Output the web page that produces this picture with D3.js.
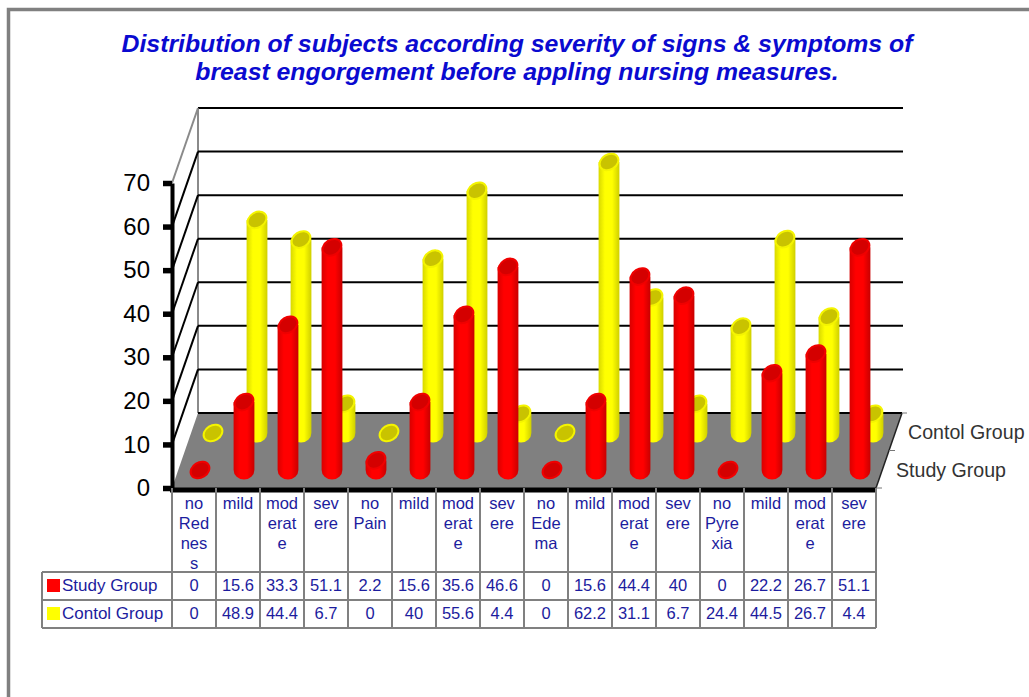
<!DOCTYPE html>
<html><head><meta charset="utf-8">
<script src="https://cdn.jsdelivr.net/npm/d3@7/dist/d3.min.js"></script>
<style>html,body{margin:0;padding:0;background:#fff}svg{display:block}text{font-family:"Liberation Sans",Arial,sans-serif}</style>
</head><body><div id="c"></div>
<script>
const titleLines = ["Distribution of subjects according severity of signs & symptoms of","breast engorgement before appling nursing measures."];
const categoryLines = [["no","Red","nes","s"],["mild"],["mod","erat","e"],["sev","ere"],["no","Pain"],["mild"],["mod","erat","e"],["sev","ere"],["no","Ede","ma"],["mild"],["mod","erat","e"],["sev","ere"],["no","Pyre","xia"],["mild"],["mod","erat","e"],["sev","ere"]];
const studyValues = [0,15.6,33.3,51.1,2.2,15.6,35.6,46.6,0,15.6,44.4,40,0,22.2,26.7,51.1];
const controlValues = [0,48.9,44.4,6.7,0,40,55.6,4.4,0,62.2,31.1,6.7,24.4,44.5,26.7,4.4];
const yTicks = [0,10,20,30,40,50,60,70];
const seriesNames = ["Study Group","Contol Group"];

const W=1029,H=697;
const svg=d3.select("#c").append("svg").attr("width",W).attr("height",H);
const defs=svg.append("defs");
function grad(id,stops){const g=defs.append("linearGradient").attr("id",id);
  stops.forEach(s=>g.append("stop").attr("offset",s[0]).attr("stop-color",s[1]));}
grad("gr",[[0,"#d80000"],[.3,"#ff0000"],[.65,"#ff0000"],[1,"#c80000"]]);
grad("gy",[[0,"#d8d800"],[.3,"#ffff00"],[.65,"#ffff00"],[1,"#cfcf00"]]);

// frame: left and top edges only
svg.append("path").attr("d",`M8.5,${H}V9.5H${W}`).attr("fill","none").attr("stroke","#808080").attr("stroke-width",3.5);

// title
svg.append("g").selectAll("text").data(titleLines).join("text")
  .attr("x",517).attr("y",(d,i)=>52+i*28).attr("text-anchor","middle")
  .attr("font-size",24.8).attr("font-weight","bold").attr("font-style","italic").attr("fill","#0a0ad0").text(d=>d);

// geometry
const x0=172,x1=876,floorFront=488,floorBack=413,dx=26;
const backRight=902;
const y=d3.scaleLinear().domain([0,70]).range([0,-305]);
const xb=d3.scaleBand().domain(d3.range(16)).range([x0,x1]);

// back wall and side wall
svg.append("line").attr("x1",x0+dx).attr("x2",x0+dx).attr("y1",floorBack+y(70)).attr("y2",floorBack).attr("stroke","#8a8a8a").attr("stroke-width",2);
svg.append("g").selectAll("line").data(yTicks.slice(1)).join("line")
  .attr("x1",x0+dx).attr("x2",903).attr("y1",d=>floorBack+y(d)).attr("y2",d=>floorBack+y(d)).attr("stroke","#000").attr("stroke-width",2);
svg.append("g").selectAll("line").data(yTicks.slice(1)).join("line")
  .attr("x1",x0).attr("x2",x0+dx).attr("y1",d=>floorFront+y(d)).attr("y2",d=>floorBack+y(d))
  .attr("stroke",d=>d===70?"#8a8a8a":"#000").attr("stroke-width",2);

// floor
svg.append("path").attr("d",`M${x0},${floorFront}L${x0+dx},${floorBack}H${backRight}L${x1},${floorFront}Z`).attr("fill","#808080");
svg.append("line").attr("x1",x0+dx).attr("x2",backRight).attr("y1",floorBack).attr("y2",floorBack).attr("stroke","#000").attr("stroke-width",2);
svg.append("path").attr("d",`M${backRight},${floorBack}L${x1},${floorFront}`).attr("stroke","#222").attr("stroke-width",1.5).attr("fill","none");
svg.append("path").attr("d",`M${backRight},${floorBack}h5M889,${(floorBack+floorFront)/2}h6M${x1},${floorFront}h6`).attr("stroke","#777").attr("stroke-width",1).attr("fill","none");

// cylinders
function cylinders(vals,fill,top,edge,offX,baseY){
  const rx=10,ry=7.6,rot=-32,hw=10.4;
  const g=svg.append("g").selectAll("g").data(vals).join("g")
    .attr("transform",(d,i)=>`translate(${xb(i)+offX},${baseY})`);
  g.filter(d=>d>0).append("path")
    .attr("d",d=>`M${-hw},${y(d)}V0A${hw},${ry+2} 0 0 0 ${hw},0V${y(d)}Z`)
    .attr("fill",`url(#${fill})`);
  g.append("ellipse").attr("cx",0).attr("cy",d=>y(d)).attr("rx",rx).attr("ry",ry)
    .attr("transform",d=>`rotate(${rot} 0 ${y(d)})`)
    .attr("fill",top).attr("stroke",edge).attr("stroke-width",2);
}
cylinders(controlValues,"gy","#c9c300","#f4f400",41,433);
cylinders(studyValues,"gr","#d40000","#f00000",28,470);

// y axis
const yAxisScale=d3.scaleLinear().domain([0,70]).range([floorFront,floorFront-305]);
const ya=svg.append("g").attr("transform",`translate(${x0},0)`)
  .call(d3.axisLeft(yAxisScale).tickValues(yTicks).tickSize(0).tickPadding(22));
ya.select(".domain").attr("stroke","#000").attr("stroke-width",4);
ya.selectAll("text").attr("font-size",24).attr("fill","#000").attr("font-family","Liberation Sans");
ya.selectAll("line").attr("x1",0).attr("x2",-9).attr("stroke","#000").attr("stroke-width",5.5);
// baseline
svg.append("line").attr("x1",x0-2).attr("x2",x1).attr("y1",floorFront+2).attr("y2",floorFront+2).attr("stroke","#000").attr("stroke-width",5);

// series labels
svg.append("text").attr("x",908).attr("y",439).attr("font-size",19.6).attr("fill","#333").text(seriesNames[1]);
svg.append("text").attr("x",896).attr("y",477).attr("font-size",19.6).attr("fill","#333").text(seriesNames[0]);

// table
const tTop=488,r1=572,r2=600,r3=628,tLeft=42,ink="#1c1c9e",grid="#808080";
const tg=svg.append("g").attr("stroke",grid).attr("stroke-width",2).attr("fill","none");
[r1,r2,r3].forEach(v=>tg.append("line").attr("x1",tLeft).attr("x2",x1).attr("y1",v).attr("y2",v));
tg.append("line").attr("x1",tLeft).attr("x2",tLeft).attr("y1",r1).attr("y2",r3);
d3.range(17).forEach(i=>{const xx=i===16?x1:xb(i);
  tg.append("line").attr("x1",xx).attr("x2",xx).attr("y1",tTop).attr("y2",r3);});
categoryLines.forEach((ls,i)=>{
  svg.append("g").selectAll("text").data(ls).join("text")
    .attr("x",xb(i)+xb.bandwidth()/2).attr("y",(d,k)=>509+k*20)
    .attr("text-anchor","middle").attr("font-size",16.5).attr("fill",ink).text(d=>d);
});
[[studyValues,591],[controlValues,619]].forEach(([vals,yy])=>{
  svg.append("g").selectAll("text").data(vals).join("text")
    .attr("x",(d,i)=>xb(i)+xb.bandwidth()/2).attr("y",yy)
    .attr("text-anchor","middle").attr("font-size",16.5).attr("fill",ink).text(d=>d);
});
[["#ff0000",seriesNames[0],591,579],["#ffff00",seriesNames[1],619,607]].forEach(([c,n,yy,sy])=>{
  svg.append("rect").attr("x",47).attr("y",sy).attr("width",13).attr("height",13).attr("fill",c);
  svg.append("text").attr("x",62).attr("y",yy).attr("font-size",17).attr("fill",ink).text(n);
});
</script></body></html>
